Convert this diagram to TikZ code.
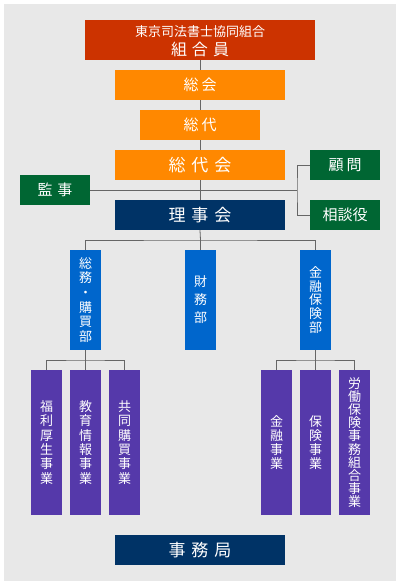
\documentclass[tikz,border=0pt]{standalone}
\usepackage{fontspec}
\setmainfont{Noto Sans CJK JP}
\definecolor{cred}{HTML}{CC3300}
\definecolor{corange}{HTML}{FF8800}
\definecolor{cgreen}{HTML}{006633}
\definecolor{cnavy}{HTML}{003366}
\definecolor{cblue}{HTML}{0066CC}
\definecolor{cpurple}{HTML}{5539AA}
\definecolor{cbg}{HTML}{E8E8E8}
\definecolor{cline}{HTML}{666666}
\begin{document}
\begin{tikzpicture}[x=1pt,y=-1pt,
  box/.style={inner sep=0pt, text=white, anchor=center, align=center},
  redbox/.style={box, fill=cred, minimum width=230pt, minimum height=40pt},
  orangebox/.style={box, fill=corange, minimum height=30pt},
  greenbox/.style={box, fill=cgreen, minimum width=70pt, minimum height=30pt},
  navybox/.style={box, fill=cnavy, minimum width=170pt, minimum height=30pt},
  bluebox/.style={box, fill=cblue, minimum width=31pt, minimum height=100pt},
  purplebox/.style={box, fill=cpurple, minimum width=31pt, minimum height=145pt},
  conn/.style={draw=cline, line width=0.8pt}
]
\useasboundingbox (0,0) rectangle (400,585);
\fill[white] (0,0) rectangle (400,585);
\fill[cbg] (4,4) rectangle (396,581);

% top box
\node[redbox] (kumiai) at (200,40) {};
\node[box, font={\fontsize{13}{15}\selectfont}] (kumiaiT) at (200,31.5) {東京司法書士協同組合};
\node[box, font={\fontsize{16}{18}\selectfont}] (kumiaiB) at (200,49) {組\kern5pt 合\kern5pt 員};

\node[orangebox, minimum width=170pt, font={\fontsize{15}{17}\selectfont}] (sokai) at (200,85) {総\kern3pt 会};
\node[orangebox, minimum width=120pt, font={\fontsize{15}{17}\selectfont}] (sodai) at (200,125) {総\kern3pt 代};
\node[orangebox, minimum width=170pt, font={\fontsize{17}{19}\selectfont}] (sodaikai) at (200,165) {総\kern6pt 代\kern6pt 会};

\node[greenbox, font={\fontsize{15}{17}\selectfont}] (kanji) at (55,190) {監\kern5pt 事};
\node[greenbox, font={\fontsize{15}{17}\selectfont}] (komon) at (345,165) {顧\kern3pt 問};
\node[greenbox, font={\fontsize{15}{17}\selectfont}] (sodan) at (345,215) {相談役};

\node[navybox, font={\fontsize{17}{19}\selectfont}] (riji) at (200,215) {理\kern6pt 事\kern6pt 会};

% departments
\node[bluebox, font={\fontsize{13}{14.7}\selectfont}] (somu) at (85.5,300) {総\\務\\・\\購\\買\\部};
\node[bluebox, font={\fontsize{13}{18}\selectfont}] (zaimu) at (200.5,300) {財\\務\\部};
\node[bluebox, font={\fontsize{13}{13.8}\selectfont}] (kinyu) at (315.5,300) {金\\融\\保\\険\\部};

% businesses
\node[purplebox, font={\fontsize{13}{14.3}\selectfont}] (fukuri) at (46.5,442.5) {福\\利\\厚\\生\\事\\業};
\node[purplebox, font={\fontsize{13}{14.3}\selectfont}] (kyoiku) at (85.5,442.5) {教\\育\\情\\報\\事\\業};
\node[purplebox, font={\fontsize{13}{14.3}\selectfont}] (kyodo) at (124.5,442.5) {共\\同\\購\\買\\事\\業};
\node[purplebox, font={\fontsize{13}{13.9}\selectfont}] (kinjigyo) at (276.5,442.5) {金\\融\\事\\業};
\node[purplebox, font={\fontsize{13}{13.9}\selectfont}] (hoken) at (315.5,442.5) {保\\険\\事\\業};
\node[purplebox, font={\fontsize{13}{13.2}\selectfont}] (rodo) at (354.5,442.5) {労\\働\\保\\険\\事\\務\\組\\合\\事\\業};

\node[navybox, font={\fontsize{17}{19}\selectfont}] (jimu) at (200,550) {事\kern6pt 務\kern6pt 局};

% connectors
\draw[conn] (kumiai.south) -- (sokai.north);
\draw[conn] (sokai.south) -- (sodai.north);
\draw[conn] (sodai.south) -- (sodaikai.north);
\draw[conn] (sodaikai.south) -- (riji.north);
\coordinate (br) at (297,190);
\draw[conn] (kanji.east) -- (br);
\draw[conn] (komon.west) -| (br) |- (sodan.west);

\coordinate (bus) at (200.5,240);
\draw[conn] (riji.south) -- (bus);
\draw[conn] (somu.north) |- (bus) -| (kinyu.north);
\draw[conn] (zaimu.north) -- (bus);

\coordinate (lbus) at (85.5,360);
\draw[conn] (somu.south) -- (kyoiku.north);
\draw[conn] (fukuri.north) |- (lbus) -| (kyodo.north);
\coordinate (rbus) at (315.5,360);
\draw[conn] (kinyu.south) -- (hoken.north);
\draw[conn] (kinjigyo.north) |- (rbus) -| (rodo.north);
\end{tikzpicture}
\end{document}
